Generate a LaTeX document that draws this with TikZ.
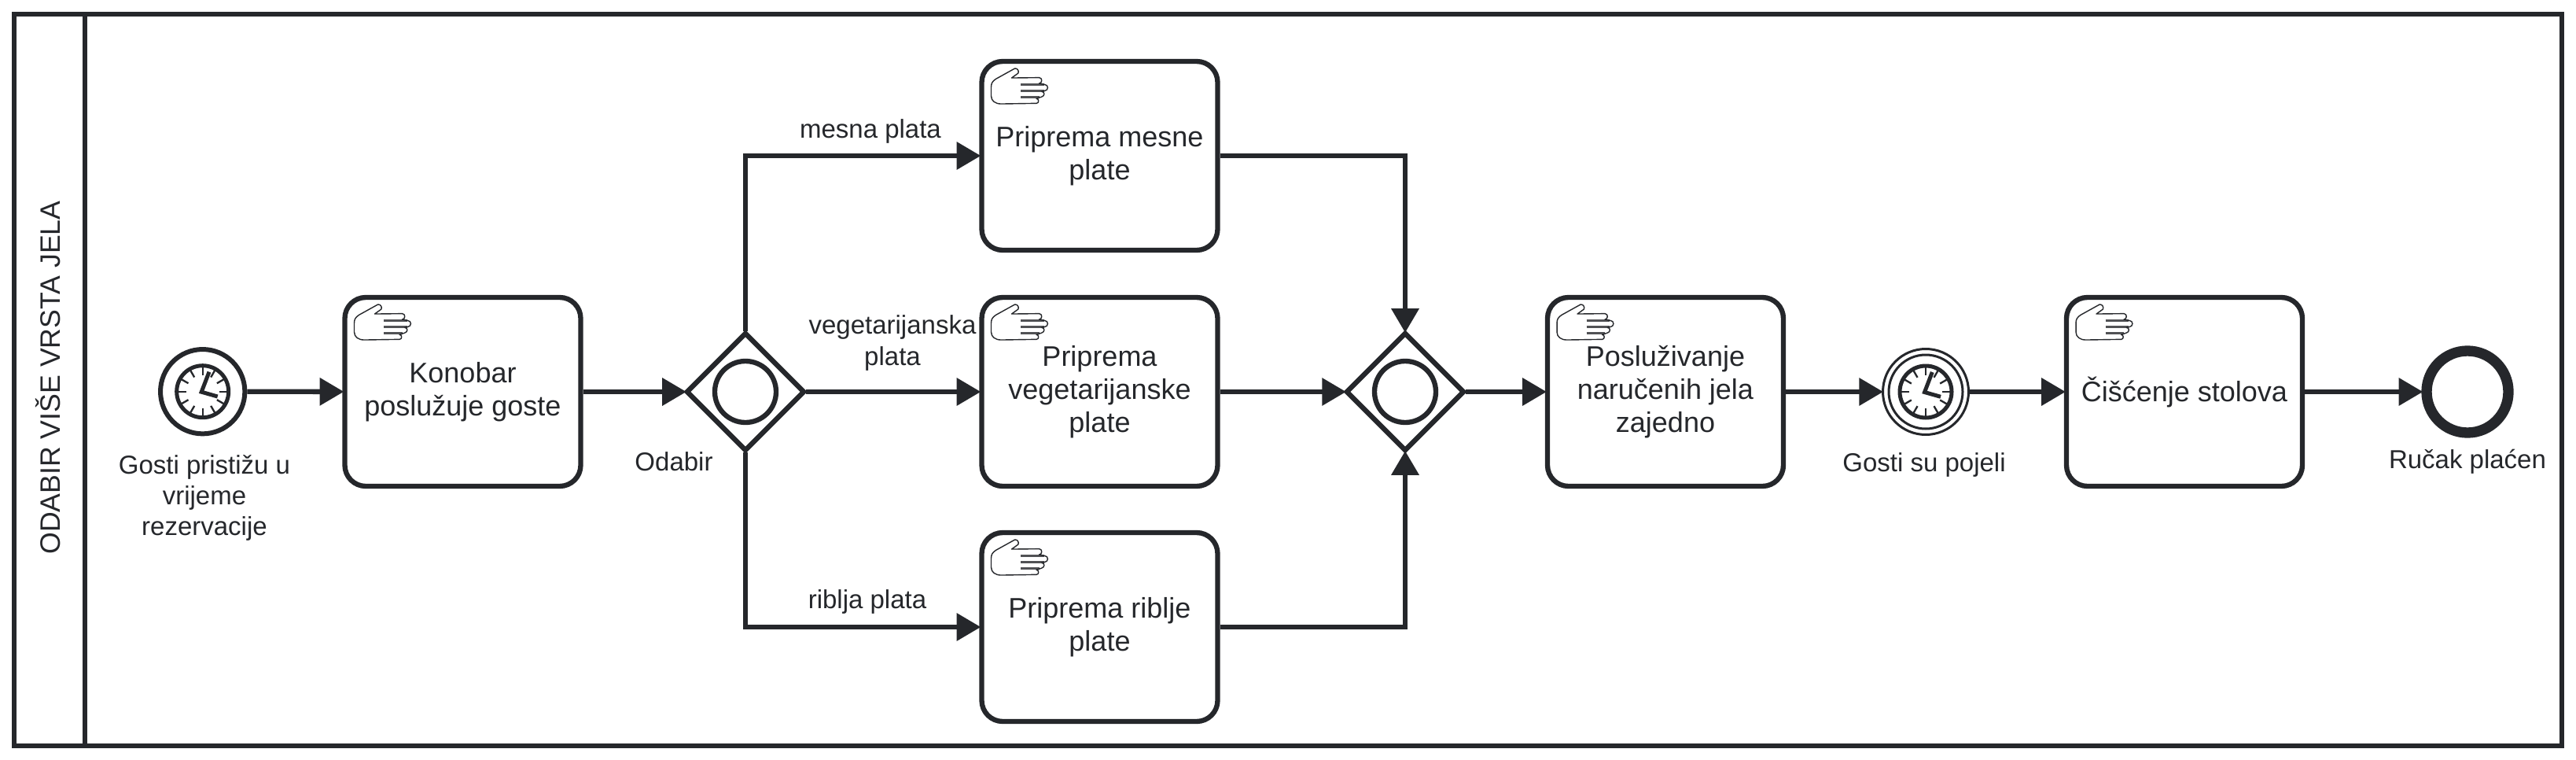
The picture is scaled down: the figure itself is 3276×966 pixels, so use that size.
\documentclass[tikz,border=0pt]{standalone}
\usepackage{fontspec}
\setmainfont{Liberation Sans}
\usetikzlibrary{arrows.meta,shapes.geometric}
\definecolor{ink}{HTML}{25272B}
\tikzset{
  pool/.style={draw=ink,line width=1.8pt,fill=none},
  taskbox/.style={draw=ink,fill=white,line width=1.9pt,rounded corners=8pt,minimum width=90pt,minimum height=72pt,inner sep=0pt,align=center,font=\fontsize{10.8pt}{12.6pt}\selectfont,text=ink},
  startev/.style={circle,draw=ink,fill=white,line width=1.8pt,minimum size=32.2pt,inner sep=0pt},
  catchev/.style={circle,draw=ink,fill=white,line width=.9pt,minimum size=32.7pt,inner sep=0pt},
  endev/.style={circle,draw=ink,fill=white,line width=4pt,minimum size=31.2pt,inner sep=0pt},
  gate/.style={diamond,aspect=1,draw=ink,fill=white,line width=1.9pt,minimum width=45pt,minimum height=45pt,inner sep=0pt,outer sep=.63pt},
  ring/.style={draw=ink,line width=1.9pt},
  flow/.style={draw=ink,line width=1.9pt,shorten >=-.6pt,-{Triangle[length=9.2pt,width=10.2pt]}},
  lbl/.style={align=center,inner sep=0pt,text=ink,font=\fontsize{9.9pt}{11.8pt}\selectfont},
  clock/.pic={
    \draw[ink,line width=1.5pt] (0,0) circle[radius=33];
    \foreach \a in {0,30,...,330} \draw[ink,line width=.7pt] (\a:21) -- (\a:33);
    \draw[ink,line width=1.5pt,line join=miter] (8.3,-25) -- (-1.5,.5) -- (19,6.3);
  },
  hand/.pic={
    \draw[ink!80,line width=.8pt] (49.3,29) -- (79,29) (49.3,37.3) -- (79,37.3) (49.3,45.3) -- (73,45.3);
    \draw[ink,line width=.42pt,line join=round] (37.7,20.7) -- (46,14.7)
      .. controls (47.5,12) and (45,8) .. (41.7,8.7) -- (17.7,22)
      .. controls (13,25) and (11.7,28) .. (11.7,32) -- (11.7,43.7)
      .. controls (11.7,50) and (17,53.7) .. (24.3,53.7) -- (69.3,53)
      .. controls (72.7,53) and (72.7,47) .. (69.3,47) -- (76,44.7)
      .. controls (80,44) and (80,38) .. (76,38) -- (79.3,37.3)
      .. controls (85,37) and (85,29) .. (79.3,29) -- (72.7,27.7)
      .. controls (77,27.5) and (77,20.3) .. (72.7,20.3) -- cycle;
  }
}
\begin{document}
\begin{tikzpicture}[x=0.3pt,y=-0.3pt]
\useasboundingbox (0,0) rectangle (3276,966);
\fill[white] (0,0) rectangle (3276,966);
\draw[pool] (18,18) rectangle (3258,948);
\draw[pool] (108,18) -- (108,948);
\node[rotate=90,inner sep=0pt,text=ink,font=\fontsize{10.7pt}{12pt}\selectfont] (lane) at (61,480) {ODABIR VIŠE VRSTA JELA};

\node[startev] (start) at (257.7,497.7) {};
\pic at (start.center) {clock};
\node[lbl] (startl) at (260,633) {Gosti pristižu u\\vrijeme\\rezervacije};

\node[taskbox] (t1) at (588.5,498) {Konobar\\poslužuje goste};
\node[gate] (g1) at (948,498) {};
\draw[ring] (g1.center) circle[radius=39];
\node[lbl] (g1l) at (857,587) {Odabir};

\node[taskbox] (t2) at (1398.5,198) {Priprema mesne\\plate};
\node[taskbox] (t3) at (1398.5,498) {Priprema\\vegetarijanske\\plate};
\node[taskbox] (t4) at (1398.5,797) {Priprema riblje\\plate};

\node[gate] (g2) at (1787,498) {};
\draw[ring] (g2.center) circle[radius=39];

\node[taskbox] (t5) at (2118,498) {Posluživanje\\naručenih jela\\zajedno};
\node[catchev] (c1) at (2449,498) {};
\draw[ink,line width=.9pt] (c1.center) circle[radius=47];
\pic at (c1.center) {clock};
\node[lbl] (c1l) at (2447,591) {Gosti su pojeli};
\node[taskbox] (t6) at (2778,498) {Čišćenje stolova};
\node[endev] (e1) at (3138,498) {};
\node[lbl] (e1l) at (3138,587) {Ručak plaćen};

\foreach \t in {t1,t2,t3,t4,t5,t6} \pic at ([shift={(3.5,3.5)}]\t.north west) {hand};

\draw[flow] (start) -- (t1);
\draw[flow] (t1) -- (g1);
\draw[flow] (g1.north) |- (t2.west);
\draw[flow] (g1.east) -- (t3.west);
\draw[flow] (g1.south) |- (t4.west);
\draw[flow] (t2.east) -| (g2.north);
\draw[flow] (t3.east) -- (g2.west);
\draw[flow] (t4.east) -| (g2.south);
\draw[flow] (g2.east) -- (t5.west);
\draw[flow] (t5) -- (c1);
\draw[flow] (c1) -- (t6);
\draw[flow] (t6) -- (e1);

\node[lbl] (f1) at (1107,167) {mesna plata};
\node[lbl] (f2) at (1135,436) {vegetarijanska\\plata};
\node[lbl] (f3) at (1103,765) {riblja plata};
\end{tikzpicture}
\end{document}
